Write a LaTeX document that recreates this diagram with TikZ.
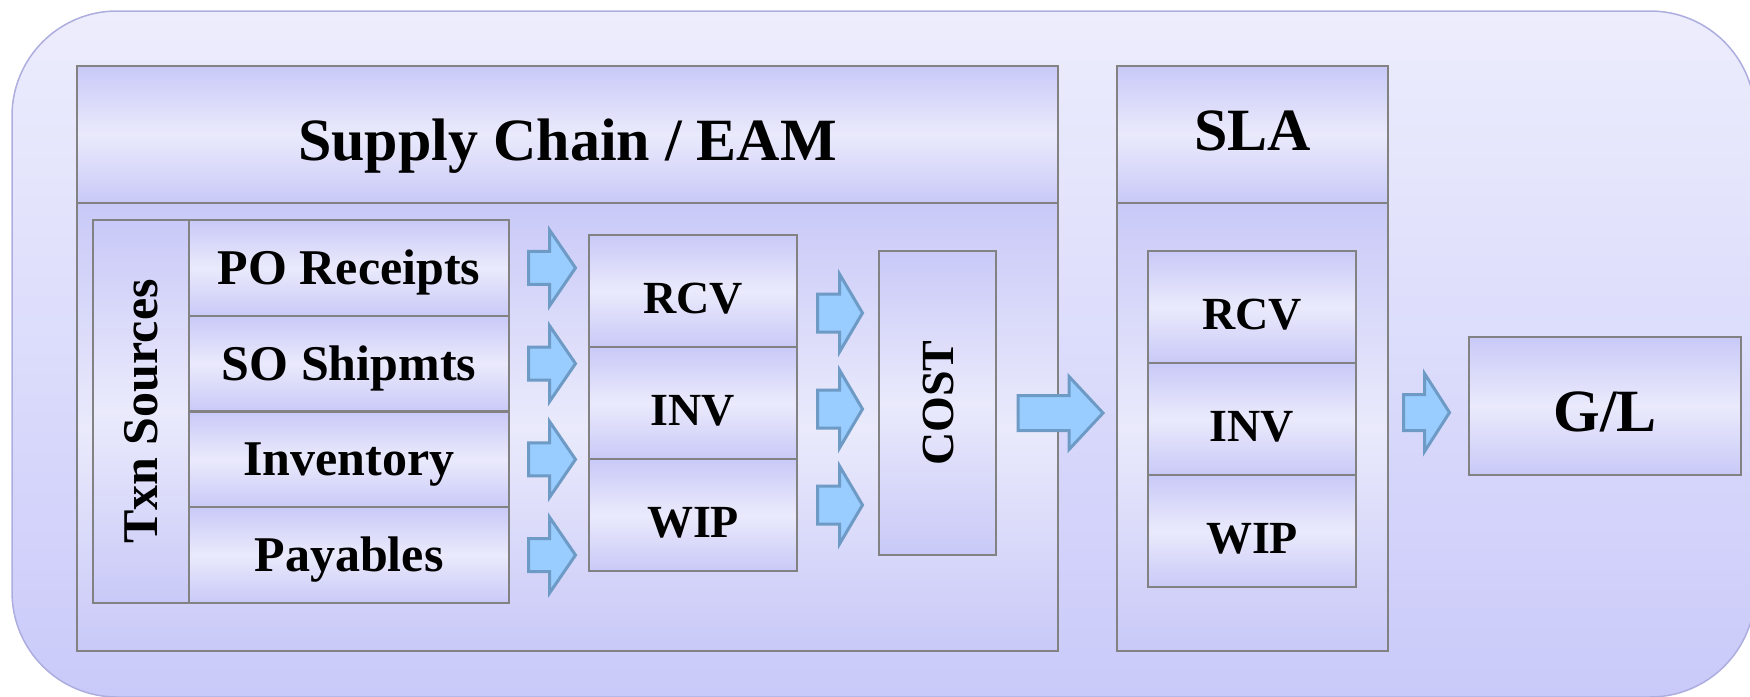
\documentclass[tikz,border=0pt]{standalone}
\usepackage{fontspec}
\setmainfont{Liberation Serif}
\usetikzlibrary{calc}
\definecolor{outerTop}{HTML}{EDEDFD}
\definecolor{outerBot}{HTML}{CACAFA}
\definecolor{outerLine}{HTML}{ADADDF}
\definecolor{tubeD}{HTML}{C9C9F8}
\definecolor{tubeL}{HTML}{EAEAFC}
\definecolor{boxLine}{HTML}{828282}
\definecolor{arrFill}{HTML}{99CCFF}
\definecolor{arrLine}{HTML}{6E9AC6}
\tikzset{
  pics/fatarrow/.style n args={4}{code={
    \draw[arrowstyle] ({-#1/2},{-#4/2}) -- ({-#1/2+#2},{-#4/2}) -- ({-#1/2+#2},{-#3/2})
      -- ({#1/2},0) -- ({-#1/2+#2},{#3/2}) -- ({-#1/2+#2},{#4/2}) -- ({-#1/2},{#4/2}) -- cycle;
  }}
}
\begin{document}
\begin{tikzpicture}[x=1pt,y=-1pt,
  tube/.style={draw=boxLine, line width=2pt, top color=tubeD, bottom color=tubeD,
    middle color=tubeL, inner sep=0pt, outer sep=0pt, text depth=0pt, text height=33pt,
    font=\bfseries\fontsize{50}{50}\selectfont},
  titlefont/.style={font=\bfseries\fontsize{60}{60}\selectfont, text height=51pt},
  capsfont/.style={font=\bfseries\fontsize{46}{46}\selectfont, text height=45pt},
  arrowstyle/.style={fill=arrFill, draw=arrLine, line width=3pt, line join=miter},
  outerbox/.style={draw=outerLine, line width=1.5pt, top color=outerTop, bottom color=outerBot, rounded corners=105pt}
]
\useasboundingbox (0,0) rectangle (1750,696);
\clip (0,0) rectangle (1750,696);
\draw[outerbox] (12,11) rectangle (1755,697);

% Supply chain / EAM
\node[tube, titlefont, minimum width=981pt, minimum height=137pt] (scH) at (567.5,134.5) {Supply Chain / EAM};
\node[tube, minimum width=981pt, minimum height=448pt] (scB) at (567.5,427) {};
% SLA
\node[tube, titlefont, text height=32.5pt, minimum width=271pt, minimum height=137pt] (slaH) at (1252.5,134.5) {SLA};
\node[tube, minimum width=271pt, minimum height=448pt] (slaB) at (1252.5,427) {};

% Txn sources
\node[tube, rotate=90, minimum width=383pt, minimum height=96pt] (txn) at (141,411.5) {Txn Sources};
\node[tube, minimum width=320pt, minimum height=95.75pt] (po) at (349,267.9) {PO Receipts};
\node[tube, minimum width=320pt, minimum height=95.75pt] (so) at (349,363.6) {SO Shipmts};
\node[tube, minimum width=320pt, minimum height=95.75pt] (invt) at (349,459.4) {Inventory};
\node[tube, minimum width=320pt, minimum height=95.75pt] (pay) at (349,555.1) {Payables};

% RCV / INV / WIP
\node[tube, capsfont, minimum width=208pt, minimum height=112pt] (rcv) at (693,291) {RCV};
\node[tube, capsfont, minimum width=208pt, minimum height=112pt] (inv) at (693,403) {INV};
\node[tube, capsfont, minimum width=208pt, minimum height=112pt] (wip) at (693,515) {WIP};

% COST
\node[tube, capsfont, text height=31pt, rotate=90, minimum width=304pt, minimum height=117pt] (cost) at (937.5,403) {COST};

% SLA inner
\node[tube, capsfont, minimum width=208pt, minimum height=112pt] (srcv) at (1252,307) {RCV};
\node[tube, capsfont, minimum width=208pt, minimum height=112pt] (sinv) at (1252,419) {INV};
\node[tube, capsfont, minimum width=208pt, minimum height=112pt] (swip) at (1252,531) {WIP};

% G/L
\node[tube, titlefont, minimum width=272pt, minimum height=138pt] (gl) at (1605,406) {G/L};

% arrows sources -> RCV/INV/WIP
\foreach \s in {po,so,invt,pay}{
  \coordinate (a-\s) at ($(\s.east)!0.5!(\s.east -| rcv.west)$);
  \pic at ($(a-\s)+(3,0)$) {fatarrow={47}{21}{76}{33}};
}
% arrows RCV/INV/WIP -> COST (cost is rotated: its north anchor is on the west side)
\coordinate (m2) at ($(inv.east)!0.5!(inv.east -| cost.north)$);
\foreach \dy in {-96,0,96}{
  \pic at ($(m2 |- cost.center)+(2,6+\dy)$) {fatarrow={45}{22}{78}{38}};
}
% COST -> SLA
\coordinate (m3) at ($(cost.south)!0.5!(sinv.west -| slaB.west)$);
\pic at ($(m3)+(4,2)$) {fatarrow={85}{51}{73}{35}};
% SLA -> G/L
\coordinate (m4) at ($(sinv.east -| slaB.east)!0.5!(gl.west)$);
\pic at ($(m4)+(-2,0)$) {fatarrow={46}{21}{78}{36}};
\end{tikzpicture}
\end{document}
